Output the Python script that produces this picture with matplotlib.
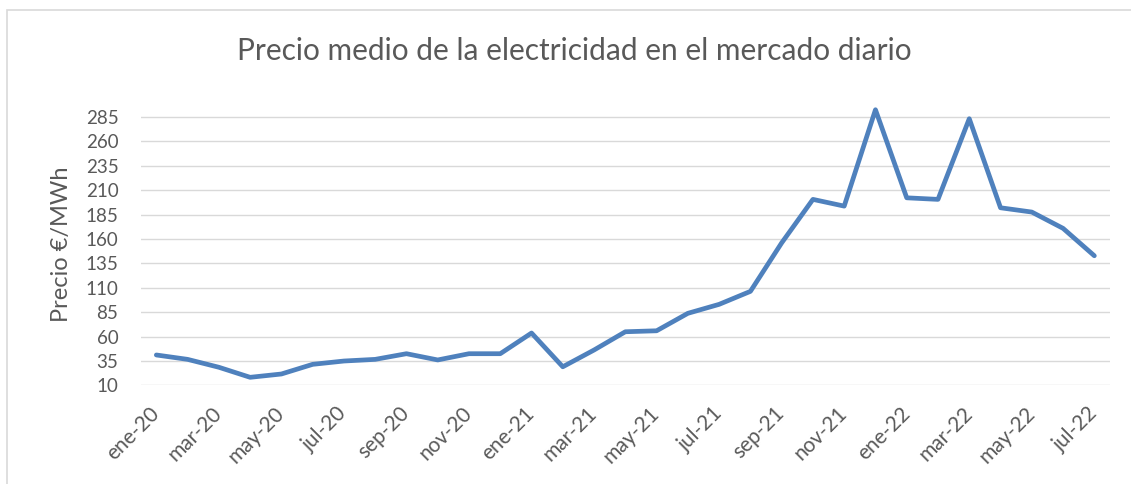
import matplotlib.pyplot as plt
import matplotlib.patches as mpatches

# ── Monthly average price, day-ahead market (€/MWh) ─────────
months = ['ene-20', 'feb-20', 'mar-20', 'abr-20', 'may-20', 'jun-20',
          'jul-20', 'ago-20', 'sep-20', 'oct-20', 'nov-20', 'dic-20',
          'ene-21', 'feb-21', 'mar-21', 'abr-21', 'may-21', 'jun-21',
          'jul-21', 'ago-21', 'sep-21', 'oct-21', 'nov-21', 'dic-21',
          'ene-22', 'feb-22', 'mar-22', 'abr-22', 'may-22', 'jun-22',
          'jul-22']

prices = [41.1, 36.6, 28.5, 18.2, 21.6, 31.5, 34.9, 36.6, 42.4, 36.0,
          42.4, 42.4, 63.6, 29.0, 46.2, 64.9, 65.9, 83.8, 93.0, 106.3,
          156.0, 200.6, 193.7, 292.5, 202.2, 200.6, 283.3, 192.0, 187.6,
          170.9, 142.8]

yticks = list(range(10, 286, 25))

plt.rcParams['font.family'] = ['Lato', 'DejaVu Sans']
text_col = '#595959'

fig = plt.figure(figsize=(11.31, 4.84), dpi=100)
ax = fig.add_axes([0.1244, 0.2039, 0.8570, 0.5845])

x = list(range(len(months)))
ax.plot(x, prices, color='#4f81bd', linewidth=3.4, solid_joinstyle='round',
        solid_capstyle='round', zorder=3)

ax.set_xlim(-0.5, len(months) - 0.5)
ax.set_ylim(10, 300)
ax.set_yticks(yticks)
ax.yaxis.grid(True, color='#d9d9d9', linewidth=1.0)
ax.set_axisbelow(True)

ax.set_xticks(x[::2])
ax.set_xticklabels(months[::2], rotation=45, ha='right', va='center',
                   rotation_mode='anchor')

ax.tick_params(axis='y', length=0, pad=16, labelsize=13.5, labelcolor=text_col)
ax.tick_params(axis='x', length=0, pad=18, labelsize=15, labelcolor=text_col)

for s in ax.spines.values():
    s.set_visible(False)

ax.set_ylabel('Precio €/MWh', fontsize=17, color=text_col, labelpad=10)
fig.text(0.508, 0.895, 'Precio medio de la electricidad en el mercado diario',
         ha='center', va='center', fontsize=21.5, color=text_col)

# chart-area border
fig.patches.append(mpatches.Rectangle((7 / 1131, -0.1), 1.2, 1.1 - 10 / 484,
                                      transform=fig.transFigure, fill=False,
                                      edgecolor='#d9d9d9', linewidth=1.2))

fig.savefig('out.png', dpi=100)
